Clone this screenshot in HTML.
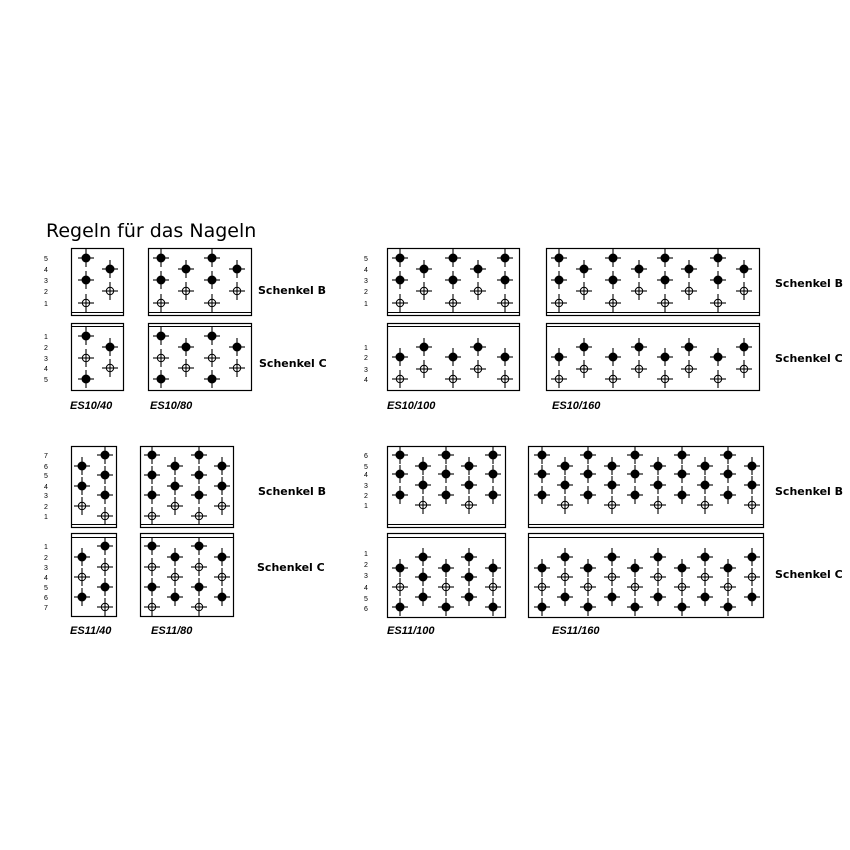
<!DOCTYPE html>
<html><head><meta charset="utf-8"><style>
html,body{margin:0;padding:0;background:#fff;}
svg{display:block;}
.t{font-family:"DejaVu Sans","Liberation Sans",sans-serif;}
.n{font-family:"Liberation Sans",sans-serif;font-size:7px;}
.s{font-family:"DejaVu Sans","Liberation Sans",sans-serif;font-weight:bold;font-size:11px;}
.l{font-family:"Liberation Sans",sans-serif;font-weight:bold;font-style:italic;font-size:11px;}
</style></head><body>
<svg id="s" width="850" height="850" viewBox="0 0 850 850" xmlns="http://www.w3.org/2000/svg">
<rect width="850" height="850" fill="#fff"/>
<text class="t" x="46" y="237" font-size="19">Regeln für das Nageln</text>

<text class="s" x="258" y="294">Schenkel B</text>
<text class="s" x="259" y="367">Schenkel C</text>
<text class="s" x="775" y="287">Schenkel B</text>
<text class="s" x="775" y="362">Schenkel C</text>
<text class="s" x="258" y="495">Schenkel B</text>
<text class="s" x="257" y="571">Schenkel C</text>
<text class="s" x="775" y="495">Schenkel B</text>
<text class="s" x="775" y="578">Schenkel C</text>

<text class="l" x="70" y="409">ES10/40</text>
<text class="l" x="150" y="409">ES10/80</text>
<text class="l" x="387" y="409">ES10/100</text>
<text class="l" x="552" y="409">ES10/160</text>
<text class="l" x="70" y="634">ES11/40</text>
<text class="l" x="151" y="634">ES11/80</text>
<text class="l" x="387" y="634">ES11/100</text>
<text class="l" x="552" y="634">ES11/160</text>

<g class="n">
<text x="44" y="261">5</text><text x="44" y="272">4</text><text x="44" y="283">3</text><text x="44" y="294">2</text><text x="44" y="306">1</text>
<text x="44" y="339">1</text><text x="44" y="350">2</text><text x="44" y="361">3</text><text x="44" y="371">4</text><text x="44" y="382">5</text>
<text x="364" y="261">5</text><text x="364" y="272">4</text><text x="364" y="283">3</text><text x="364" y="294">2</text><text x="364" y="306">1</text>
<text x="364" y="350">1</text><text x="364" y="360">2</text><text x="364" y="372">3</text><text x="364" y="382">4</text>
<text x="44" y="458">7</text><text x="44" y="469">6</text><text x="44" y="478">5</text><text x="44" y="489">4</text><text x="44" y="498">3</text><text x="44" y="509">2</text><text x="44" y="519">1</text>
<text x="44" y="549">1</text><text x="44" y="560">2</text><text x="44" y="570">3</text><text x="44" y="580">4</text><text x="44" y="590">5</text><text x="44" y="600">6</text><text x="44" y="610">7</text>
<text x="364" y="458">6</text><text x="364" y="469">5</text><text x="364" y="477">4</text><text x="364" y="488">3</text><text x="364" y="498">2</text><text x="364" y="508">1</text>
<text x="364" y="556">1</text><text x="364" y="567">2</text><text x="364" y="578">3</text><text x="364" y="590">4</text><text x="364" y="601">5</text><text x="364" y="611">6</text>
</g>
<g id="g"></g>
</svg>
<script>
var g=document.getElementById('g'),h='';
function box(x1,x2,y1,y2,line){h+='<rect x="'+x1+'.5" y="'+y1+'.5" width="'+(x2-x1)+'" height="'+(y2-y1)+'" fill="none" stroke="#000" stroke-width="1.2"/>';
h+='<line x1="'+x1+'" x2="'+x2+'" y1="'+line+'.5" y2="'+line+'.5" stroke="#000" stroke-width="1"/>';}
function nail(x,y,f){h+='<line x1="'+(x-8)+'" x2="'+(x+8)+'" y1="'+y+'" y2="'+y+'" stroke="#000" stroke-width="1.1"/><line x1="'+x+'" x2="'+x+'" y1="'+(y-9)+'" y2="'+(y+9)+'" stroke="#000" stroke-width="1.1"/>';
h+=f?'<circle cx="'+x+'" cy="'+y+'" r="4.5" fill="#000"/>':'<circle cx="'+x+'" cy="'+y+'" r="3.7" fill="none" stroke="#000" stroke-width="1"/>';}
function grid(cols,a,b){cols.forEach(function(x,i){(i%2?b:a).forEach(function(p){nail(x,p[0],p[1]);});});}
box(71,123,248,315,312);box(71,123,323,390,326);
box(148,251,248,315,312);box(148,251,323,390,326);
box(387,519,248,315,312);box(387,519,323,390,326);
box(546,759,248,315,312);box(546,759,323,390,326);
var bA=[[258,1],[280,1],[303,0]],bB=[[269,1],[291,0]];
var cA=[[336,1],[358,0],[379,1]],cB=[[347,1],[368,0]];
grid([86,110],bA,bB);grid([161,186,212,237],bA,bB);
grid([86,110],cA,cB);grid([161,186,212,237],cA,cB);
var c2A=[[357,1],[379,0]],c2B=[[347,1],[369,0]];
grid([400,424,453,478,505],bA,bB);grid([559,584,613,639,665,689,718,744],bA,bB);
grid([400,424,453,478,505],c2A,c2B);grid([559,584,613,639,665,689,718,744],c2A,c2B);
box(71,116,446,527,524);box(71,116,533,616,537);
box(140,233,446,527,524);box(140,233,533,616,537);
box(387,505,446,527,524);box(387,505,533,617,537);
box(528,763,446,527,524);box(528,763,533,617,537);
var eO=[[455,1],[475,1],[495,1],[516,0]],eE=[[466,1],[486,1],[506,0]];
grid([82,105],eE,eO);grid([152,175,199,222],eO,eE);
var fO=[[546,1],[567,0],[587,1],[607,0]],fE=[[557,1],[577,0],[597,1]];
grid([82,105],fE,fO);grid([152,175,199,222],fO,fE);
var gA=[[455,1],[474,1],[495,1]],gB=[[466,1],[485,1],[505,0]];
grid([400,423,446,469,493],gA,gB);grid([542,565,588,612,635,658,682,705,728,752],gA,gB);
grid([400,423,446,469,493],[[568,1],[587,0],[607,1]],[[557,1],[577,1],[597,1]]);
grid([542,565,588,612,635,658,682,705,728,752],[[568,1],[587,0],[607,1]],[[557,1],[577,0],[597,1]]);
g.innerHTML=h;
</script>
</body></html>
